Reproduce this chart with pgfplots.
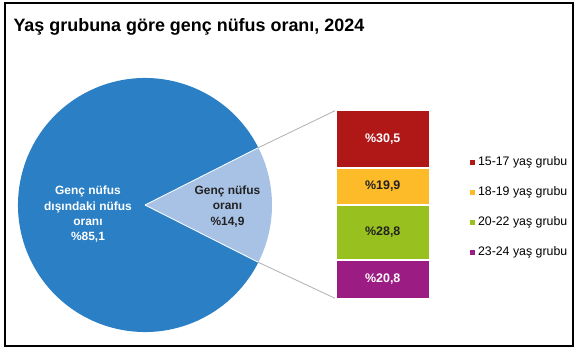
\documentclass[border=0pt]{standalone}
\usepackage{fontspec}
\setmainfont{Liberation Sans}
\usepackage{pgfplots}
\pgfplotsset{compat=1.18}
\definecolor{pieblue}{HTML}{2A7FC5}
\definecolor{pielight}{HTML}{A8C2E5}
\definecolor{cred}{HTML}{B01818}
\definecolor{cyellow}{HTML}{FDBA29}
\definecolor{cgreen}{HTML}{98C11F}
\definecolor{cpurple}{HTML}{9B1C83}
\definecolor{conn}{HTML}{B0B0B0}
\definecolor{darktxt}{HTML}{222222}
\def\young{14.9}
\def\rest{85.1}
\begin{document}
\begin{tikzpicture}
\begin{axis}[at={(0,0)}, anchor=south west, x=1bp, y=1bp, scale only axis,
  xmin=0, xmax=578, ymin=0, ymax=353, hide axis, clip=false]
\path[fill=white] (axis cs:0,0) rectangle (axis cs:578,353);
\draw[black, line width=1.5bp] (axis cs:5,7) rectangle (axis cs:573,350);
\node[anchor=base west, font=\bfseries\fontsize{18}{20}\selectfont] at (axis cs:10,322) {Yaş grubuna göre genç nüfus oranı, 2024};
\pgfmathsetmacro{\ha}{\young*3.6/2}
\pgfmathsetmacro{\hb}{360-\ha}
\fill[pieblue] (axis cs:145,148) -- ++(\ha:127bp) arc[start angle=\ha, end angle=\hb, radius=127bp] -- cycle;
\fill[pielight] (axis cs:145,148) -- ++(-\ha:127bp) arc[start angle=-\ha, end angle=\ha, radius=127bp] -- cycle;
\draw[white, line width=0.8bp] (axis cs:145,148) -- ++(\ha:127bp);
\draw[white, line width=0.8bp] (axis cs:145,148) -- ++(-\ha:127bp);
\draw[conn, line width=0.8bp] (axis cs:145,148) ++(\ha:127bp) -- (axis cs:336.5,243);
\draw[conn, line width=0.8bp] (axis cs:145,148) ++(-\ha:127bp) -- (axis cs:336.5,54);
\node[align=center, text=white, font=\bfseries\fontsize{12}{15.5}\selectfont] at (axis cs:88,138.6) {Genç nüfus\\dışındaki nüfus\\oranı\\\%85,1};
\node[align=center, text=darktxt, font=\bfseries\fontsize{12}{15.5}\selectfont] at (axis cs:227.5,146.6) {Genç nüfus\\oranı\\\%14,9};
\end{axis}
\begin{axis}[at={(336.5bp,54bp)}, anchor=south west, width=92.5bp, height=189bp, scale only axis,
  hide axis, xmin=-0.5, xmax=0.5, ymin=0, ymax=100, ybar stacked, bar width=94.5bp, clip=false,
  legend style={at={(1,0.5)}, anchor=west, xshift=41bp, yshift=-2.5bp, draw=none, fill=none,
    inner sep=0pt, outer sep=0pt, font=\fontsize{12.4}{14}\selectfont, row sep=18bp, column sep=3bp,
    nodes={inner sep=0pt, text height=9bp, text depth=3bp}},
  legend cell align=left, reverse legend,
  legend image code/.code={\path[#1, draw=none] (0bp,-2.5bp) rectangle (5bp,2.5bp);},
  after end axis/.code={
    \node[text=white, font=\bfseries\fontsize{12.5}{14}\selectfont] at (axis cs:0,10.4) {\%20,8};
    \node[text=darktxt, font=\bfseries\fontsize{12.5}{14}\selectfont] at (axis cs:0,35.2) {\%28,8};
    \node[text=darktxt, font=\bfseries\fontsize{12.5}{14}\selectfont] at (axis cs:0,59.55) {\%19,9};
    \node[text=white, font=\bfseries\fontsize{12.5}{14}\selectfont] at (axis cs:0,84.75) {\%30,5};
  }]
\addplot[fill=cpurple, draw=white, line width=2bp] coordinates {(0,20.8)};
\addplot[fill=cgreen, draw=white, line width=2bp] coordinates {(0,28.8)};
\addplot[fill=cyellow, draw=white, line width=2bp] coordinates {(0,19.9)};
\addplot[fill=cred, draw=white, line width=2bp] coordinates {(0,30.5)};
\legend{23-24 yaş grubu, 20-22 yaş grubu, 18-19 yaş grubu, 15-17 yaş grubu}
\end{axis}
\end{tikzpicture}
\end{document}
